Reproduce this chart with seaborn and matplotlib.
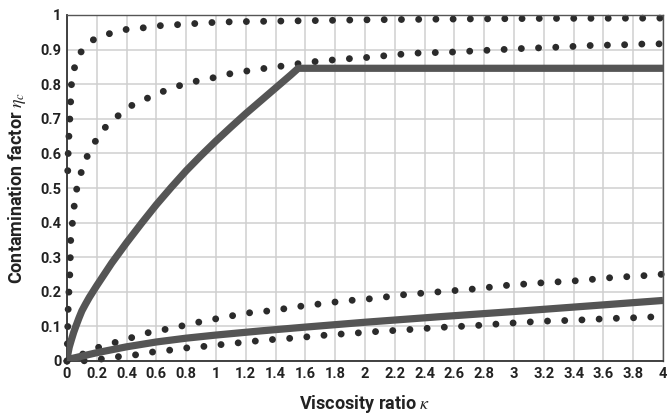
import numpy as np
import pandas as pd
import matplotlib
matplotlib.use("Agg")
import matplotlib.pyplot as plt
import seaborn as sns

# ---- data ----
upper_solid_x = [0.0, 0.005, 0.015, 0.03, 0.045, 0.06, 0.08, 0.1, 0.125, 0.15, 0.175, 0.2, 0.3, 0.4, 0.5, 0.6, 0.7, 0.8, 0.9, 1.0, 1.1, 1.2, 1.3, 1.4, 1.5, 1.552, 4.0]
upper_solid_y = [0.0, 0.018, 0.04, 0.062, 0.083, 0.101, 0.124, 0.145, 0.165, 0.184, 0.201, 0.218, 0.283, 0.342, 0.398, 0.452, 0.502, 0.550, 0.594, 0.636, 0.676, 0.715, 0.752, 0.789, 0.826, 0.846, 0.846]

lower_solid_x = [0.0, 0.1, 0.2, 0.4, 0.6, 0.8, 1.0, 1.3, 1.6, 2.0, 2.5, 3.0, 3.5, 4.0]
lower_solid_y = [0.004, 0.014, 0.024, 0.041, 0.055, 0.066, 0.075, 0.087, 0.098, 0.112, 0.128, 0.143, 0.159, 0.175]

top_dot_x = [0.005, 0.009, 0.015, 0.02, 0.03, 0.049, 0.089, 0.181, 0.284, 0.394, 0.512, 0.619, 0.738, 0.848, 0.96, 1.07, 1.19, 1.53, 2.0, 2.5, 3.17, 4.0]
top_dot_y = [0.55, 0.62, 0.665, 0.708, 0.80, 0.846, 0.891, 0.930, 0.946, 0.958, 0.963, 0.969, 0.972, 0.975, 0.978, 0.98, 0.981, 0.983, 0.986, 0.988, 0.990, 0.991]

second_dot_x = [0.0, 0.003, 0.009, 0.015, 0.02, 0.025, 0.036, 0.047, 0.06, 0.087, 0.121, 0.172, 0.244, 0.329, 0.427, 0.526, 0.638, 0.74, 0.848, 0.966, 1.078, 1.177, 1.277, 1.389, 1.5, 1.626, 1.738, 1.85, 1.966, 2.067, 2.186, 2.297, 2.414, 2.53, 2.649, 2.76, 2.879, 2.99, 3.107, 3.23, 3.35, 3.465, 3.58, 3.70, 3.817, 3.935, 4.0]
second_dot_y = [0.0, 0.061, 0.171, 0.215, 0.261, 0.352, 0.398, 0.443, 0.488, 0.534, 0.579, 0.623, 0.670, 0.704, 0.737, 0.757, 0.778, 0.794, 0.807, 0.817, 0.829, 0.836, 0.843, 0.849, 0.856, 0.864, 0.868, 0.873, 0.875, 0.880, 0.884, 0.889, 0.891, 0.892, 0.894, 0.897, 0.899, 0.902, 0.904, 0.906, 0.908, 0.911, 0.913, 0.913, 0.916, 0.916, 0.917]

third_dot_x = [0.0, 0.2, 0.318, 0.423, 0.523, 0.62, 0.725, 0.83, 0.933, 1.042, 1.146, 1.25, 1.362, 1.474, 1.58, 1.698, 1.81, 1.926, 2.04, 2.156, 2.268, 2.50, 2.727, 2.96, 3.19, 3.42, 3.655, 3.886, 4.0]
third_dot_y = [0.0, 0.038, 0.053, 0.066, 0.080, 0.088, 0.097, 0.107, 0.117, 0.125, 0.134, 0.141, 0.145, 0.152, 0.159, 0.165, 0.171, 0.176, 0.180, 0.186, 0.192, 0.200, 0.208, 0.219, 0.226, 0.232, 0.241, 0.247, 0.251]

fourth_dot_x = [0.0, 0.1, 0.217, 0.333, 0.45, 0.552, 0.669, 0.78, 0.893, 1.0, 1.116, 1.228, 1.34, 1.452, 1.568, 1.687, 1.805, 1.917, 2.034, 2.15, 2.268, 2.5, 2.727, 2.96, 3.19, 3.42, 3.655, 3.886, 4.0]
fourth_dot_y = [0.0, 0.0, 0.005, 0.012, 0.017, 0.025, 0.030, 0.037, 0.041, 0.046, 0.051, 0.056, 0.061, 0.064, 0.068, 0.073, 0.077, 0.080, 0.084, 0.087, 0.090, 0.097, 0.102, 0.109, 0.115, 0.118, 0.123, 0.126, 0.130]

x_ticks = [0, 0.2, 0.4, 0.6, 0.8, 1, 1.2, 1.4, 1.6, 1.8, 2, 2.2, 2.4, 2.6, 2.8, 3, 3.2, 3.4, 3.6, 3.8, 4]
y_ticks = [0, 0.1, 0.2, 0.3, 0.4, 0.5, 0.6, 0.7, 0.8, 0.9, 1]

sns.set_theme(style="white")
plt.rcParams['font.family'] = ['Roboto', 'DejaVu Sans']
plt.rcParams['mathtext.fontset'] = 'stix'

fig = plt.figure(figsize=(6.67, 4.18), dpi=100)
ax = fig.add_axes([67/667, 1 - 361/418, (663-67)/667, (361-15)/418])

dot_color = "#2b2b2b"
solid_color = "#555555"
lw_dot = 5.0
dot_style = (0, (0.001, 12.4 / lw_dot))

for xs, ys in [(top_dot_x, top_dot_y), (second_dot_x, second_dot_y),
               (third_dot_x, third_dot_y), (fourth_dot_x, fourth_dot_y)]:
    df = pd.DataFrame({"x": xs, "y": ys})
    sns.lineplot(data=df, x="x", y="y", ax=ax, sort=False, estimator=None,
                 color=dot_color, linewidth=lw_dot, linestyle=dot_style,
                 dash_capstyle="round", clip_on=False, zorder=2)

for xs, ys in [(upper_solid_x, upper_solid_y), (lower_solid_x, lower_solid_y)]:
    df = pd.DataFrame({"x": xs, "y": ys})
    sns.lineplot(data=df, x="x", y="y", ax=ax, sort=False, estimator=None,
                 color=solid_color, linewidth=5.2, solid_joinstyle="round",
                 solid_capstyle="butt", zorder=3)

ax.set_xlim(0, 4)
ax.set_ylim(0, 1)
ax.set_xticks(x_ticks)
ax.set_xticklabels([f"{t:g}" for t in x_ticks])
ax.set_yticks(y_ticks)
ax.set_yticklabels([f"{t:g}" for t in y_ticks])
ax.grid(True, color="#cfcfcf", linewidth=1.1, zorder=0)
ax.set_axisbelow(True)
for s in ax.spines.values():
    s.set_visible(True)
    s.set_color("#555555")
    s.set_linewidth(1.0)
ax.spines['left'].set_color("#333333")
ax.spines['bottom'].set_color("#333333")
ax.spines['left'].set_linewidth(1.3)
ax.spines['bottom'].set_linewidth(1.3)
ax.tick_params(axis="both", length=0, labelsize=10.5, colors="#222222", pad=4)
for lab in ax.get_xticklabels() + ax.get_yticklabels():
    lab.set_fontweight("bold")

ax.set_xlabel(r"Viscosity ratio $\kappa$", fontsize=13, fontweight="bold",
              color="#222222", labelpad=9)
ax.set_ylabel(r"Contamination factor $\eta_c$", fontsize=13, fontweight="bold",
              color="#222222", labelpad=9)

fig.savefig("out.png", dpi=100)
